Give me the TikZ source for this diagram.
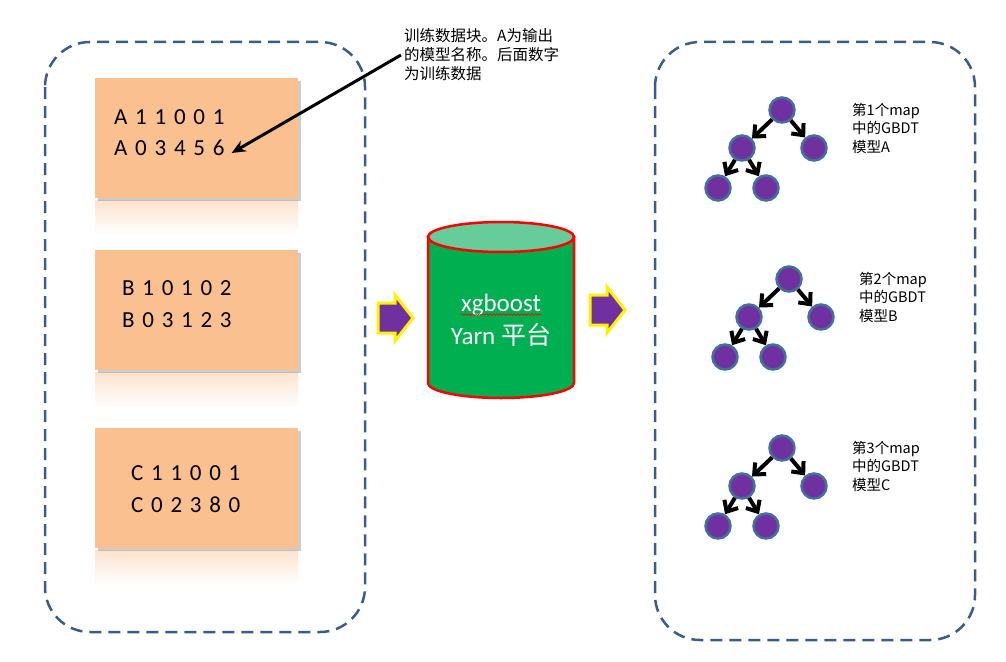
\documentclass[tikz,border=0pt]{standalone}
\usepackage{fontspec}
\setmainfont{Carlito}
\newfontfamily\cjk{Noto Sans CJK SC}
\newfontfamily\boxfont[LetterSpace=11]{Carlito}
\usetikzlibrary{arrows.meta,shadows,decorations.pathmorphing}

\definecolor{dashblue}{RGB}{56,93,138}
\definecolor{peach}{RGB}{250,192,144}
\definecolor{treepurple}{RGB}{112,48,160}
\definecolor{treeedge}{RGB}{65,113,156}
\definecolor{drumgreen}{RGB}{0,176,80}
\definecolor{drumtop}{RGB}{102,204,153}

\tikzset{
  group/.style={draw=dashblue, line width=2.5pt, dash pattern=on 12pt off 7pt, rounded corners=45pt},
  datablock/.style={fill=peach, minimum width=203pt, minimum height=120pt, anchor=north west,
    drop shadow={shadow xshift=3pt, shadow yshift=-3pt, opacity=.4}},
  dataline/.style={anchor=west, inner sep=0pt, font=\boxfont\fontsize{23}{27}\selectfont},
  note/.style={anchor=west, align=left, inner sep=3pt, font=\cjk\fontsize{15.5}{19}\selectfont},
  pointer/.style={-{Stealth[length=14pt,width=12pt]}, line width=3pt},
  drumtext/.style={text=white, inner sep=0pt, font=\fontsize{25}{29}\selectfont},
  leaf/.style={circle, fill=treepurple, draw=treeedge, line width=2.5pt, minimum size=25pt, inner sep=0pt},
  branch/.style={-{Straight Barb[length=9pt,width=16pt]}, line width=4pt},
  fatarrow/.style={fill=treepurple, draw=yellow, line width=3pt, line join=miter},
  maplabel/.style={anchor=west, align=left, inner sep=0pt, font=\cjk\fontsize{14.5}{18.5}\selectfont},
  pics/bigarrow/.style={code={
    \draw[fatarrow] (0,-15) -- (17,-15) -- (17,-23) -- (35,0) -- (17,23) -- (17,15) -- (0,15) -- cycle;
  }},
}

\begin{document}
\begin{tikzpicture}[x=1pt,y=-1pt]
\useasboundingbox (0,0) rectangle (1006,661);

% GROUPS
\draw[group] (45,42) rectangle (365,632);
\draw[group] (655,42) rectangle (975,640);

% DATA BLOCKS
\foreach \top in {78,250,428}{
  \shade[top color=peach!45, bottom color=white] (95,\top+122) rectangle (298,\top+157);
}
\node[datablock] (blockA) at (95,78) {};
\node[datablock] (blockB) at (95,250) {};
\node[datablock] (blockC) at (95,428) {};

\node[dataline] (a1) at (114,117) {A 1 1 0 0 1};
\node[dataline] (a2) at (114,148) {A 0 3 4 5 6};
\node[dataline] (b1) at (122,288) {B 1 0 1 0 2};
\node[dataline] (b2) at (122,320) {B 0 3 1 2 3};
\node[dataline] (c1) at (131,473) {C 1 1 0 0 1};
\node[dataline] (c2) at (131,505) {C 0 2 3 8 0};

% NOTE
\node[note] (note) at (401,55) {训练数据块。A为输出\\的模型名称。后面数字\\为训练数据};
\draw[pointer] (note.west) -- ([xshift=7pt,yshift=-5pt]a2.east);

% PLATFORM
\filldraw[fill=drumgreen, draw=red, line width=2.5pt]
  (428,237) -- (428,383) arc[start angle=180, end angle=0, x radius=73, y radius=15] -- (574,237) -- cycle;
\filldraw[fill=drumtop, draw=red, line width=2.5pt] (501,237) ellipse[x radius=73, y radius=15];
\node[drumtext] (xgb) at (501,305) {xgboost};
\node[drumtext] (yarn) at (501,335) {Yarn {\cjk 平台}};
\draw[red, line width=0.6pt, decorate, decoration={snake, amplitude=0.9pt, segment length=3.5pt}]
  ([yshift=-3pt]xgb.base west) -- ([yshift=-3pt]xgb.base east);

% FLOW
\pic at (378,318) {bigarrow};
\pic at (590,310) {bigarrow};

% TREES
\foreach \i/\x/\y/\m in {1/782/110/A, 2/789/279/B, 3/782/448/C}{
  \node[leaf] (r\i) at (\x,\y) {};
  \node[leaf] (l\i) at (\x-40,\y+38) {};
  \node[leaf] (k\i) at (\x+32,\y+38) {};
  \node[leaf] (p\i) at (\x-64,\y+78) {};
  \node[leaf] (q\i) at (\x-16,\y+78) {};
  \draw[branch] (r\i) -- (l\i);
  \draw[branch] (r\i) -- (k\i);
  \draw[branch] (l\i) -- (p\i);
  \draw[branch] (l\i) -- (q\i);
  \node[maplabel] (m\i) at (\x+70,\y+18) {第\i{}个map\\中的GBDT\\模型\m};
}

\end{tikzpicture}
\end{document}
